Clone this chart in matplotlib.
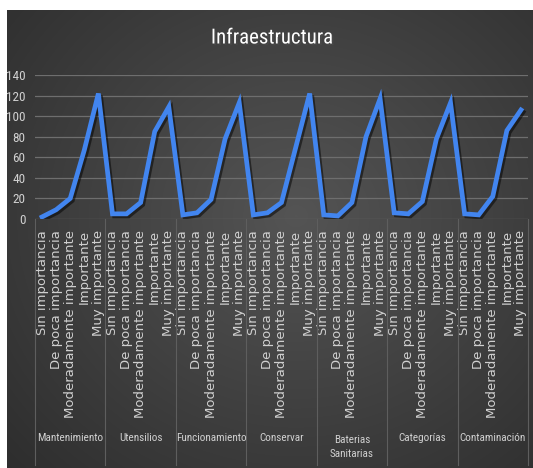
import numpy as np
import matplotlib
matplotlib.use("Agg")
from matplotlib import pyplot as plt
from matplotlib import patheffects as pe

groups = ["Mantenimiento", "Utensilios", "Funcionamiento", "Conservar",
          "Baterias\nSanitarias", "Categorías", "Contaminación"]
levels = ["Sin importancia", "De poca importancia", "Moderadamente importante",
          "Importante", "Muy importante"]

mantenimiento = [2, 9, 20, 67, 122]
utensilios = [5, 5, 16, 85, 109]
funcionamiento = [4, 6, 19, 78, 113]
conservar = [4, 6, 16, 69, 122]
baterias = [4, 3, 16, 80, 117]
categorias = [6, 5, 17, 78, 113]
contaminacion = [5, 4, 22, 86, 106]

values = (mantenimiento + utensilios + funcionamiento + conservar
          + baterias + categorias + contaminacion)
labels = levels * len(groups)

W, H = 533, 468
fig = plt.figure(figsize=(W / 100, H / 100), dpi=100)
fig.patch.set_facecolor("white")

# dark radial background panel
bg = fig.add_axes([7 / W, 0, (W - 7) / W, (H - 10) / H])
bg.axis("off")
yy, xx = np.mgrid[0:1:300j, 0:1:300j]
r = np.sqrt(((xx - 0.55) / 0.75) ** 2 + ((yy - 0.45) / 0.8) ** 2)
shade = 0.33 - 0.15 * np.clip(r, 0, 1)
bg.imshow(np.dstack([shade, shade, shade]), extent=[0, 1, 0, 1],
          aspect="auto", interpolation="bilinear")

narrow = ["Roboto Condensed", "Open Sans Condensed", "Liberation Sans Narrow",
          "Liberation Sans"]
light = "#d0d0d0"

left, right, top, zero = 35, 528, 75, 219
ax = fig.add_axes([left / W, 1 - zero / H, (right - left) / W, (zero - top) / H])
ax.set_facecolor("none")

x = np.arange(len(values))
ax.plot(x, values, color="#4285ef", lw=3.4, solid_joinstyle="miter",
        path_effects=[pe.SimpleLineShadow(offset=(1.5, -1.5), alpha=0.5),
                      pe.Normal()])

ax.set_xlim(-0.5, len(values) - 0.5)
ax.set_ylim(0, 140)
ax.set_yticks(range(0, 141, 20))
ax.grid(axis="y", color="#6e6e6e", lw=0.9)
ax.set_axisbelow(True)
for s in ax.spines.values():
    s.set_visible(False)
ax.tick_params(axis="both", length=0, colors=light)
for t in ax.get_yticklabels():
    t.set_family(narrow)
    t.set_fontsize(9.5)
ax.tick_params(axis="y", pad=7)

ax.set_xticks(x)
ax.set_xticklabels(labels, rotation=90, fontsize=9.5, color=light,
                   va="top", ha="center")
ax.tick_params(axis="x", pad=8)

# group separators and group names under the rotated labels
px = 1 / (zero - top)
trans = ax.get_xaxis_transform()
for i in range(len(groups) + 1):
    ax.plot([i * 5 - 0.5] * 2, [0, -(465 - zero) * px], transform=trans,
            color="#5e5e5e", lw=0.8, clip_on=False)
for i, g in enumerate(groups):
    y = 447 if "\n" in g else 438
    ax.text(i * 5 + 2, -(y - zero) * px, g, transform=trans, ha="center",
            va="center", fontsize=8, color=light, family=narrow,
            linespacing=1.5)

fig.text(272 / W, 1 - 38 / H, "Infraestructura", ha="center", va="center",
         fontsize=15, color="white", family=narrow,
         path_effects=[pe.withSimplePatchShadow(offset=(1.2, -1.2), alpha=0.6)])

fig.savefig("out.png", dpi=100)
